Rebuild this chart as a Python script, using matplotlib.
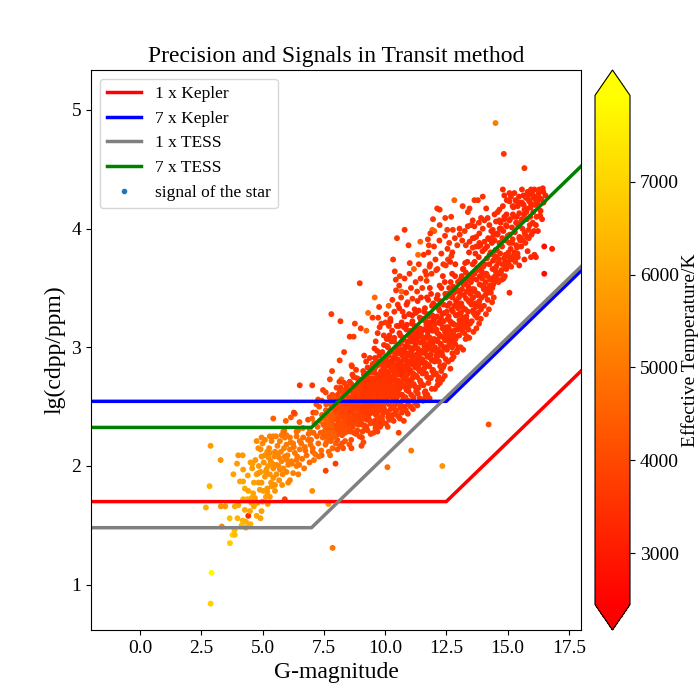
import matplotlib
matplotlib.use('Agg')
import matplotlib.pyplot as plt
from matplotlib.lines import Line2D

plt.rcParams['font.family'] = ['Liberation Serif', 'DejaVu Serif']

# ---- detection-limit lines (vertices) ----
kepler_x = [-2.0, 12.5, 18.0]
kepler_1x = [1.70, 1.70, 2.80]
kepler_7x = [2.545, 2.545, 3.645]
tess_x = [-2.0, 7.0, 18.0]
tess_1x = [1.48, 1.48, 3.68]
tess_7x = [2.325, 2.325, 4.525]

teff_min, teff_max = 2445, 7930

# ---- stars: bright, hot ones (G < 8) ----
g_bright = [2.88, 2.92, 2.88, 3.29, 2.84, 2.69, 3.34, 3.30, 3.48, 3.66,
            3.78, 3.67, 3.86, 3.98, 4.01, 3.87, 3.81, 3.96, 4.01, 4.19,
            4.21, 4.08, 4.21, 4.28, 4.42, 4.38, 4.21, 4.28, 4.19, 4.32,
            4.42, 4.46, 4.49, 4.55, 4.69, 4.65, 4.76, 4.92, 4.96, 5.21,
            4.15, 4.32, 4.51, 3.87, 4.76, 4.65, 4.83, 4.96, 4.55, 4.89,
            5.03, 5.19, 5.37, 5.51, 5.30, 5.14, 5.10, 5.30, 5.44, 5.57,
            5.51, 5.68, 5.71, 5.85, 5.98, 6.12, 6.25, 6.39, 6.50, 6.46,
            5.57, 5.44, 5.33, 5.23, 5.14, 4.92, 4.83, 4.59, 4.51, 4.96,
            5.10, 5.19, 5.30, 5.27, 4.92, 4.76, 4.96, 5.00, 4.83, 5.10,
            5.30, 5.37, 5.55, 5.61, 5.51, 5.71, 5.91, 5.98, 6.12, 6.25,
            6.39, 6.52, 6.66, 6.86, 6.96, 6.73, 6.52, 6.32, 6.39, 6.18,
            6.05, 5.91, 5.78, 5.68, 5.44, 5.78, 5.98, 6.12, 5.85, 6.39,
            5.44, 5.95, 6.16, 6.32, 6.51, 5.89, 7.03, 5.91, 7.69, 7.86,
            7.58, 7.98, 7.41, 6.62, 6.80, 6.70, 6.92, 7.05, 5.80, 6.05]
lg_bright = [0.84, 1.10, 2.17, 2.05, 1.83, 1.65, 1.49, 1.66, 1.66, 1.56,
             1.42, 1.35, 1.46, 1.56, 1.67, 1.66, 1.93, 2.02, 2.09, 2.09,
             1.97, 1.87, 1.87, 1.81, 1.79, 1.72, 1.72, 1.63, 1.54, 1.53,
             1.58, 1.50, 1.62, 1.69, 1.73, 1.66, 1.58, 1.56, 1.62, 1.68,
             1.50, 1.48, 1.51, 1.42, 1.93, 1.86, 1.86, 1.86, 1.73, 1.80,
             1.79, 1.81, 1.83, 1.79, 1.74, 1.74, 1.91, 1.93, 1.90, 1.93,
             1.84, 1.88, 1.97, 1.98, 1.95, 1.88, 1.94, 2.00, 2.01, 1.93,
             2.01, 1.98, 2.04, 2.00, 1.95, 1.95, 1.94, 2.02, 2.03, 2.08,
             2.09, 2.12, 2.11, 2.15, 2.14, 2.21, 2.24, 2.19, 2.15, 2.22,
             2.25, 2.21, 2.25, 2.17, 2.12, 2.21, 2.24, 2.18, 2.14, 2.19,
             2.25, 2.21, 2.24, 2.22, 2.18, 2.16, 2.14, 2.11, 2.05, 2.04,
             2.01, 2.08, 2.04, 2.07, 2.25, 2.26, 2.26, 2.24, 2.29, 2.29,
             2.40, 2.38, 2.41, 2.44, 2.37, 2.30, 1.79, 1.72, 1.68, 1.31,
             1.96, 2.02, 2.09, 2.06, 2.09, 1.98, 2.03, 2.12, 1.84, 1.86]
t_bright = [6900, 7800, 5800, 5700, 6300, 6200, 5300, 5600, 5700, 6500,
            6900, 6800, 6600, 6300, 6000, 6100, 6000, 5800, 5600, 5700,
            5900, 6000, 6000, 6100, 6000, 6200, 6200, 6100, 6300, 6200,
            3400, 6300, 6000, 6000, 5900, 6000, 6100, 5900, 5900, 5800,
            6400, 6300, 6200, 6500, 5800, 5900, 5800, 5700, 6000, 5800,
            5800, 5700, 5600, 5600, 5700, 5800, 5700, 5600, 5600, 5500,
            5500, 5500, 5400, 5400, 5300, 5300, 5200, 5100, 5000, 5100,
            5400, 5500, 5500, 5600, 5600, 5700, 5700, 5800, 5800, 5600,
            5500, 5500, 5400, 5400, 5500, 5400, 5300, 5400, 5500, 5300,
            5200, 5200, 5100, 5200, 5300, 5100, 5000, 5100, 5100, 5000,
            4900, 4900, 4800, 4700, 4800, 4900, 5000, 5000, 5000, 5100,
            5200, 5200, 5300, 5300, 5200, 5000, 5000, 5000, 4900, 4800,
            4500, 4500, 4400, 4300, 4400, 4800, 5500, 3800, 5800, 5000,
            3800, 3700, 4300, 4900, 4800, 5000, 4700, 4600, 5500, 5300]

g_bright2 = [4.40, 4.58, 4.71, 4.85, 5.05, 5.16, 5.25, 5.40, 5.48, 5.62,
             5.75, 5.88, 6.02, 6.15, 6.28, 6.42, 6.58, 6.75, 6.88, 4.62,
             4.80, 5.00, 5.20, 5.35, 5.65, 5.82, 6.00, 6.20, 6.45, 6.65]
lg_bright2 = [1.92, 1.98, 2.05, 2.00, 2.03, 1.97, 2.07, 2.02, 2.08, 2.10,
              2.12, 2.15, 2.09, 2.20, 2.16, 2.08, 2.19, 2.13, 2.27, 1.77,
              1.69, 1.70, 1.78, 1.86, 2.00, 1.93, 2.05, 2.02, 2.30, 2.32]
t_bright2 = [5900, 5800, 5700, 5700, 5600, 5600, 5500, 5500, 5400, 5300,
             5300, 5200, 5200, 5100, 5000, 5000, 4900, 4800, 4700, 6000,
             6000, 5900, 5800, 5700, 5400, 5300, 5200, 5100, 4800, 4700]

# ---- sparse stars above the main band ----
g_upper = [8.97, 7.81, 8.18, 8.77, 9.01, 8.56, 8.72, 9.24, 8.33, 8.15,
           8.63, 7.84, 8.22, 7.75, 6.52, 7.03, 8.02, 7.47, 7.27, 7.07,
           6.86, 6.28, 9.31, 9.58, 9.76, 9.49, 9.72, 9.78, 10.02, 10.16,
           10.16, 10.44, 10.60, 10.40, 10.67, 10.33, 11.01, 11.35, 11.69, 11.82,
           12.09, 12.48, 12.57, 12.71, 12.13, 12.23, 12.46, 11.96, 12.23, 10.80,
           11.93, 12.01, 12.54, 11.85, 10.49, 11.75, 11.44, 10.96, 11.79,
           12.83, 12.70, 13.17, 13.99, 13.79, 13.65, 13.45, 13.38, 12.77,
           13.04, 14.51, 14.85, 15.69, 14.81, 15.08, 15.28, 15.59, 15.82, 15.96,
           16.10, 16.30, 16.44, 16.46, 14.94, 15.48, 15.69, 15.82, 15.96, 16.10,
           16.16, 16.50, 16.82, 16.50, 15.08]
lg_upper = [3.54, 3.28, 3.22, 3.20, 3.16, 3.09, 3.09, 3.14, 2.96, 2.89,
            2.85, 2.80, 2.73, 2.73, 2.68, 2.68, 2.66, 2.64, 2.56, 2.45,
            2.39, 2.45, 3.29, 3.42, 3.34, 3.25, 3.25, 3.17, 3.21, 3.18,
            3.07, 3.57, 3.60, 3.64, 3.47, 3.74, 3.71, 3.78, 3.61, 3.68,
            3.65, 3.69, 3.74, 3.77, 4.17, 4.16, 4.09, 4.08, 4.03, 3.99,
            3.99, 3.98, 3.99, 3.96, 3.92, 3.91, 3.89, 3.86, 3.86,
            4.24, 4.10, 4.19, 4.27, 4.24, 4.24, 4.17, 4.14, 3.99,
            4.00, 4.89, 4.63, 4.51, 4.33, 4.30, 4.30, 4.33, 4.31, 4.33,
            4.33, 4.33, 4.34, 4.31, 3.72, 3.69, 3.74, 3.81, 3.76, 3.78,
            3.76, 3.85, 3.83, 3.62, 3.46]
t_upper = [3600, 3700, 3600, 3800, 3700, 3600, 3700, 4600, 3700, 3800,
           4600, 3800, 4500, 3900, 3600, 3700, 3900, 3800, 4000, 3900,
           4000, 3800, 4700, 4700, 3700, 3600, 3700, 3600, 3700, 3600,
           3700, 3600, 3700, 3600, 4600, 3600, 3600, 4700, 3600, 3700,
           3600, 3600, 3700, 3600, 3500, 3500, 3600, 3600, 3600, 3500,
           4600, 4400, 3700, 3600, 3600, 3600, 4500, 3600, 3700,
           4500, 3600, 3600, 3500, 3600, 3600, 3500, 3600, 3600,
           3500, 5100, 3600, 3500, 3400, 3400, 3400, 3400, 3400, 3300,
           3300, 3300, 3300, 3300, 3400, 3300, 3300, 3300, 3300, 3300,
           3200, 2700, 3000, 2700, 3300]

# ---- halo just above the 7 x TESS line ----
g_halo = [9.62, 9.70, 9.85, 9.95, 10.05, 10.15, 10.22, 10.30, 10.38, 10.45,
          10.52, 10.58, 10.66, 10.72, 10.80, 10.86, 10.92, 11.00, 11.06, 11.12,
          11.18, 11.25, 11.31, 11.38, 11.45, 11.52, 11.58, 11.64, 11.70, 11.77,
          11.84, 11.90, 12.00, 12.06, 12.14, 12.22, 12.30, 12.38, 12.45, 12.55,
          12.62, 12.75, 12.85, 12.95, 13.05, 13.15, 13.25, 13.30]
lg_halo = [3.05, 3.12, 3.20, 3.10, 3.28, 3.35, 3.24, 3.40, 3.30, 3.48,
           3.36, 3.52, 3.42, 3.30, 3.58, 3.46, 3.38, 3.62, 3.50, 3.41,
           3.66, 3.55, 3.47, 3.70, 3.58, 3.50, 3.78, 3.64, 3.56, 3.80,
           3.70, 3.62, 3.85, 3.74, 3.66, 3.90, 3.79, 3.70, 3.94, 3.83,
           3.88, 3.80, 3.92, 3.86, 3.95, 3.90, 3.98, 3.86]
t_halo = [3600, 3500, 3600, 3500, 3500, 4400, 3600, 3500, 3500, 3600,
          3500, 3500, 3600, 3500, 3500, 3600, 3500, 3500, 3500, 3600,
          4500, 3500, 3600, 3500, 3500, 3600, 3500, 3500, 3600, 3500,
          3500, 3600, 3500, 3500, 3600, 3500, 3500, 3600, 3500, 3500,
          3600, 3500, 3500, 3600, 3500, 3500, 3600, 3500]

g_top = [13.38, 13.51, 13.58, 13.65, 13.83, 13.92, 14.13, 14.47, 14.53, 14.67,
         14.40, 14.26, 14.06, 13.85, 13.72, 13.58, 14.19, 14.06, 13.99, 13.85,
         13.72, 13.58, 13.45, 14.26, 14.40, 14.60, 14.74, 14.94, 15.08, 15.28,
         15.48, 15.69, 14.81, 14.67, 14.60, 14.97, 14.87, 15.14, 15.35, 15.08,
         15.42, 15.21, 15.62, 15.89, 16.16, 16.06, 15.76]
lg_top = [4.02, 4.03, 4.07, 4.02, 4.05, 4.09, 4.17, 4.12, 4.06, 4.07,
          3.93, 3.91, 3.89, 3.88, 3.85, 3.84, 4.09, 4.07, 4.00, 3.96,
          3.93, 3.92, 3.89, 4.03, 3.99, 3.96, 4.00, 4.03, 4.07, 4.10,
          4.13, 4.16, 4.19, 4.16, 4.14, 4.24, 4.28, 4.27, 4.23, 4.23,
          4.19, 4.19, 4.21, 4.23, 4.24, 4.26, 4.28]
t_top = [3400, 3500, 3400, 3400, 3500, 3400, 3400, 3300, 3400, 3400,
         3500, 3400, 3400, 3500, 3400, 3500, 3400, 3400, 3500, 3400,
         3400, 3500, 3400, 3400, 3400, 3300, 3400, 3400, 3300, 3400,
         3300, 3300, 3400, 3400, 3400, 3300, 3300, 3400, 3300, 3400,
         3300, 3400, 3300, 3300, 3300, 3300, 3300]

# ---- sparse stars below the main band ----
g_low = [10.10, 11.07, 12.34, 14.23, 9.04, 8.63, 8.29, 10.56]
lg_low = [1.99, 2.13, 2.00, 2.35, 2.17, 2.15, 2.15, 2.28]
t_low = [4800, 5000, 5600, 4100, 3900, 4000, 4100, 3800]

# ---- main band, by magnitude slices (first pass) ----
g_a = [6.92, 6.98, 7.02, 7.05, 7.08, 7.12, 7.15, 7.18, 7.22, 7.25,
       7.28, 7.31, 7.34, 7.37, 7.40, 7.43, 7.46, 7.48, 7.10, 7.20, 7.30, 7.42]
lg_a = [2.31, 2.22, 2.40, 2.15, 2.28, 2.36, 2.10, 2.45, 2.25, 2.33,
        2.19, 2.50, 2.38, 2.28, 2.13, 2.43, 2.24, 2.35, 2.05, 2.52, 2.08, 2.55]
t_a = [4800, 4700, 4500, 4800, 4600, 4500, 4900, 4300, 4600, 4500,
       4700, 4200, 4400, 4500, 4800, 4300, 4600, 4400, 4900, 4200, 4800, 4100]

g_b = [7.52, 7.55, 7.57, 7.60, 7.62, 7.65, 7.67, 7.70, 7.72, 7.74,
       7.77, 7.79, 7.81, 7.84, 7.86, 7.88, 7.90, 7.93, 7.95, 7.97,
       7.99, 7.58, 7.68, 7.76, 7.85, 7.94]
lg_b = [2.29, 2.41, 2.18, 2.52, 2.35, 2.24, 2.46, 2.12, 2.38, 2.58,
        2.30, 2.21, 2.49, 2.36, 2.15, 2.44, 2.27, 2.55, 2.33, 2.40,
        2.19, 2.62, 2.31, 2.09, 2.60, 2.47]
t_b = [4500, 4300, 4600, 4200, 4400, 4500, 4300, 4700, 4300, 4000,
       4400, 4500, 4200, 4300, 4600, 4200, 4400, 4000, 4300, 4200,
       4500, 3900, 4300, 4700, 3900, 4100]

g_c = [8.01, 8.03, 8.05, 8.07, 8.09, 8.11, 8.13, 8.15, 8.17, 8.19,
       8.21, 8.23, 8.25, 8.27, 8.29, 8.31, 8.33, 8.35, 8.37, 8.39,
       8.41, 8.43, 8.45, 8.47, 8.49, 8.06, 8.14, 8.22, 8.30, 8.38,
       8.46, 8.18]
lg_c = [2.34, 2.48, 2.22, 2.60, 2.39, 2.29, 2.53, 2.43, 2.17, 2.66,
        2.36, 2.47, 2.26, 2.58, 2.41, 2.33, 2.70, 2.50, 2.21, 2.44,
        2.62, 2.37, 2.29, 2.55, 2.47, 2.14, 2.71, 2.31, 2.52, 2.64,
        2.40, 2.45]
t_c = [4100, 3900, 4200, 3800, 4000, 4100, 3900, 4000, 4300, 3700,
       4000, 3900, 4100, 3800, 3900, 4000, 3700, 3800, 4200, 3900,
       3700, 4000, 4100, 3800, 3900, 4300, 3600, 4000, 3800, 3700,
       3900, 3900]

g_d = [8.51, 8.52, 8.54, 8.56, 8.57, 8.59, 8.61, 8.62, 8.64, 8.66,
       8.67, 8.69, 8.71, 8.72, 8.74, 8.76, 8.77, 8.79, 8.81, 8.82,
       8.84, 8.86, 8.87, 8.89, 8.91, 8.92, 8.94, 8.96, 8.97, 8.99,
       8.55, 8.65, 8.75, 8.85, 8.95, 8.60]
lg_d = [2.42, 2.58, 2.31, 2.71, 2.49, 2.38, 2.63, 2.22, 2.54, 2.45,
        2.77, 2.35, 2.60, 2.50, 2.28, 2.67, 2.43, 2.56, 2.37, 2.81,
        2.48, 2.62, 2.30, 2.53, 2.70, 2.41, 2.59, 2.25, 2.66, 2.47,
        2.18, 2.84, 2.40, 2.74, 2.35, 2.52]
t_d = [3900, 3800, 4000, 3700, 3800, 3900, 3700, 4100, 3800, 3900,
       3600, 3900, 3700, 3800, 4000, 3700, 3800, 3700, 3900, 3600,
       3800, 3700, 4000, 3800, 3600, 3800, 3700, 4000, 3700, 3800,
       4200, 3600, 3900, 3600, 3900, 3800]

g_e = [9.01, 9.02, 9.04, 9.05, 9.07, 9.08, 9.10, 9.11, 9.13, 9.14,
       9.16, 9.17, 9.19, 9.20, 9.22, 9.23, 9.25, 9.26, 9.28, 9.29,
       9.31, 9.32, 9.34, 9.35, 9.37, 9.38, 9.40, 9.41, 9.43, 9.44,
       9.46, 9.47, 9.49, 9.06, 9.15, 9.24, 9.33, 9.42, 9.48, 9.12]
lg_e = [2.55, 2.38, 2.72, 2.46, 2.64, 2.29, 2.58, 2.80, 2.42, 2.68,
        2.51, 2.34, 2.75, 2.61, 2.47, 2.88, 2.39, 2.66, 2.55, 2.30,
        2.78, 2.49, 2.62, 2.70, 2.44, 2.91, 2.57, 2.36, 2.68, 2.52,
        2.83, 2.45, 2.61, 2.24, 2.93, 2.33, 2.40, 2.27, 2.74, 2.20]
t_e = [3700, 3800, 3600, 3700, 3600, 3900, 3700, 3500, 3800, 3600,
       3700, 3800, 3500, 3600, 3700, 3500, 3800, 3600, 3700, 3900,
       3500, 3700, 3600, 3600, 3700, 3500, 3600, 3800, 3600, 3700,
       3500, 3700, 3600, 3900, 3500, 3800, 3700, 3900, 3500, 4000]

g_f = [9.51, 9.52, 9.54, 9.55, 9.56, 9.58, 9.59, 9.60, 9.62, 9.63,
       9.64, 9.66, 9.67, 9.68, 9.70, 9.71, 9.72, 9.74, 9.75, 9.76,
       9.78, 9.79, 9.80, 9.82, 9.83, 9.84, 9.86, 9.87, 9.88, 9.90,
       9.91, 9.92, 9.94, 9.95, 9.96, 9.98, 9.99, 9.53, 9.61, 9.69,
       9.77, 9.85, 9.93, 9.57]
lg_f = [2.63, 2.48, 2.79, 2.56, 2.36, 2.70, 2.91, 2.52, 2.61, 2.43,
        2.84, 2.68, 2.50, 2.97, 2.59, 2.40, 2.75, 2.66, 2.54, 2.88,
        2.47, 2.71, 2.33, 2.62, 2.95, 2.78, 2.51, 2.69, 2.42, 2.86,
        2.58, 2.74, 2.65, 2.49, 3.02, 2.81, 2.56, 2.28, 2.32, 2.29,
        2.37, 2.35, 2.45, 2.99]
t_f = [3600, 3700, 3500, 3600, 3800, 3500, 3400, 3700, 3600, 3700,
       3500, 3600, 3700, 3400, 3600, 3800, 3500, 3600, 3700, 3500,
       3700, 3500, 3800, 3600, 3400, 3500, 3700, 3600, 3700, 3500,
       3600, 3500, 3600, 3700, 3400, 3500, 3600, 3900, 3800, 3800,
       3800, 3700, 3700, 3400]

g_g = [10.01, 10.02, 10.04, 10.05, 10.06, 10.08, 10.09, 10.10, 10.12, 10.13,
       10.14, 10.16, 10.17, 10.18, 10.20, 10.21, 10.22, 10.24, 10.25, 10.26,
       10.28, 10.29, 10.30, 10.32, 10.33, 10.34, 10.36, 10.37, 10.38, 10.40,
       10.41, 10.42, 10.44, 10.45, 10.46, 10.48, 10.49, 10.03, 10.11, 10.19,
       10.27, 10.35, 10.43, 10.07]
lg_g = [2.72, 2.55, 2.88, 2.64, 2.46, 2.79, 3.01, 2.59, 2.70, 2.41,
        2.93, 2.77, 2.62, 3.10, 2.53, 2.84, 2.68, 2.48, 2.97, 2.74,
        2.60, 3.14, 2.81, 2.66, 2.50, 2.89, 2.72, 3.05, 2.57, 2.78,
        2.63, 2.95, 2.45, 2.85, 2.70, 3.18, 2.58, 2.36, 2.33, 2.39,
        2.42, 2.38, 2.52, 3.07]
t_g = [3500, 3600, 3400, 3500, 3700, 3500, 3400, 3600, 3500, 3700,
       3400, 3500, 3600, 3400, 3600, 3500, 3500, 3700, 3400, 3500,
       3600, 3400, 3500, 3500, 3700, 3400, 3500, 3400, 3600, 3500,
       3500, 3400, 3600, 3400, 3500, 3400, 3600, 3800, 3800, 3700,
       3700, 3700, 3600, 3400]

g_h = [10.51, 10.52, 10.54, 10.55, 10.56, 10.58, 10.59, 10.60, 10.62, 10.63,
       10.64, 10.66, 10.67, 10.68, 10.70, 10.71, 10.72, 10.74, 10.75, 10.76,
       10.78, 10.79, 10.80, 10.82, 10.83, 10.84, 10.86, 10.87, 10.88, 10.90,
       10.91, 10.92, 10.94, 10.95, 10.96, 10.98, 10.99, 10.53, 10.61, 10.69,
       10.77, 10.85, 10.93, 10.57]
lg_h = [2.80, 2.62, 2.97, 2.71, 2.53, 2.88, 3.12, 2.66, 2.79, 2.49,
        3.03, 2.85, 2.70, 3.21, 2.60, 2.93, 2.76, 2.56, 3.08, 2.83,
        2.68, 3.26, 2.90, 2.73, 2.58, 3.00, 2.81, 3.15, 2.64, 2.87,
        2.72, 3.05, 2.52, 2.95, 2.78, 3.28, 2.67, 2.42, 2.40, 2.45,
        2.38, 2.47, 2.44, 3.18]
t_h = [3500, 3500, 3400, 3500, 3600, 3400, 3300, 3500, 3400, 3600,
       3400, 3400, 3500, 3300, 3500, 3400, 3500, 3600, 3400, 3400,
       3500, 3300, 3400, 3500, 3600, 3400, 3500, 3300, 3500, 3400,
       3500, 3400, 3600, 3400, 3500, 3300, 3500, 3700, 3700, 3600,
       3700, 3600, 3600, 3300]

g_i = [11.01, 11.03, 11.04, 11.06, 11.07, 11.09, 11.10, 11.12, 11.13, 11.15,
       11.16, 11.18, 11.19, 11.21, 11.22, 11.24, 11.25, 11.27, 11.28, 11.30,
       11.31, 11.33, 11.34, 11.36, 11.37, 11.39, 11.40, 11.42, 11.43, 11.45,
       11.46, 11.48, 11.49, 11.05, 11.14, 11.23, 11.32, 11.41, 11.47, 11.11]
lg_i = [2.88, 2.70, 3.06, 2.79, 2.60, 2.97, 3.20, 2.74, 2.86, 2.56,
        3.12, 2.93, 2.77, 3.32, 2.67, 3.01, 2.84, 2.63, 3.16, 2.91,
        2.75, 3.39, 2.99, 2.82, 2.66, 3.09, 2.89, 3.25, 2.72, 2.95,
        2.80, 3.13, 2.69, 2.50, 2.48, 2.53, 2.51, 2.57, 3.42, 3.27]
t_i = [3400, 3500, 3400, 3400, 3500, 3400, 3300, 3500, 3400, 3500,
       3300, 3400, 3500, 3300, 3500, 3400, 3400, 3500, 3300, 3400,
       3500, 3300, 3400, 3400, 3500, 3300, 3400, 3300, 3500, 3400,
       3400, 3300, 3500, 3600, 3600, 3600, 3600, 3500, 3300, 3300]

g_j = [11.51, 11.53, 11.54, 11.56, 11.57, 11.59, 11.60, 11.62, 11.63, 11.65,
       11.66, 11.68, 11.69, 11.71, 11.72, 11.74, 11.75, 11.77, 11.78, 11.80,
       11.81, 11.83, 11.84, 11.86, 11.87, 11.89, 11.90, 11.92, 11.93, 11.95,
       11.96, 11.98, 11.99, 11.55, 11.64, 11.73, 11.82, 11.91]
lg_j = [2.97, 2.78, 3.15, 2.88, 2.68, 3.06, 3.30, 2.83, 2.95, 2.63,
        3.22, 3.02, 2.86, 3.42, 2.75, 3.10, 2.93, 2.70, 3.26, 3.00,
        2.84, 3.50, 3.08, 2.91, 2.74, 3.18, 2.98, 3.35, 2.80, 3.04,
        2.89, 3.23, 2.77, 2.55, 2.58, 2.60, 2.57, 2.65]
t_j = [3400, 3400, 3300, 3400, 3500, 3400, 3300, 3400, 3400, 3500,
       3300, 3400, 3400, 3300, 3500, 3400, 3400, 3500, 3300, 3400,
       3400, 3300, 3400, 3400, 3500, 3300, 3400, 3300, 3500, 3400,
       3400, 3300, 3500, 3500, 3600, 3500, 3500, 3500]

g_k = [12.01, 12.03, 12.05, 12.06, 12.08, 12.10, 12.11, 12.13, 12.15, 12.16,
       12.18, 12.20, 12.21, 12.23, 12.25, 12.26, 12.28, 12.30, 12.31, 12.33,
       12.35, 12.36, 12.38, 12.40, 12.41, 12.43, 12.45, 12.46, 12.48, 12.04,
       12.14, 12.24, 12.34, 12.44]
lg_k = [3.07, 2.88, 3.25, 2.97, 2.78, 3.15, 3.41, 2.92, 3.05, 2.72,
        3.33, 3.11, 2.95, 3.52, 2.84, 3.20, 3.02, 2.80, 3.37, 3.09,
        2.93, 3.60, 3.17, 3.00, 2.85, 3.29, 3.06, 3.45, 2.90, 2.65,
        2.68, 2.70, 2.73, 2.76]
t_k = [3400, 3400, 3300, 3400, 3500, 3400, 3300, 3400, 3400, 3500,
       3300, 3400, 3400, 3300, 3500, 3400, 3400, 3500, 3300, 3400,
       3400, 3300, 3400, 3400, 3500, 3300, 3400, 3300, 3400, 3500,
       3500, 3500, 3500, 3500]

g_l = [12.51, 12.53, 12.55, 12.56, 12.58, 12.60, 12.62, 12.63, 12.65, 12.67,
       12.68, 12.70, 12.72, 12.74, 12.75, 12.77, 12.79, 12.80, 12.82, 12.84,
       12.86, 12.87, 12.89, 12.91, 12.93, 12.94, 12.96, 12.98, 12.99, 12.66]
lg_l = [3.17, 2.98, 3.35, 3.07, 2.88, 3.26, 3.50, 3.02, 3.14, 2.82,
        3.43, 3.21, 3.05, 3.62, 2.95, 3.30, 3.11, 2.92, 3.46, 3.19,
        3.03, 3.70, 3.27, 3.09, 2.97, 3.38, 3.15, 3.55, 3.00, 3.72]
t_l = [3400, 3400, 3300, 3400, 3500, 3400, 3300, 3400, 3400, 3500,
       3300, 3400, 3400, 3300, 3500, 3400, 3400, 3500, 3300, 3400,
       3400, 3300, 3400, 3400, 3500, 3300, 3400, 3300, 3400, 3300]

g_m = [13.01, 13.03, 13.05, 13.07, 13.09, 13.11, 13.13, 13.15, 13.17, 13.19,
       13.21, 13.23, 13.25, 13.27, 13.29, 13.31, 13.33, 13.35, 13.37, 13.39,
       13.41, 13.43, 13.45, 13.47, 13.49, 13.20]
lg_m = [3.28, 3.10, 3.46, 3.19, 3.00, 3.37, 3.60, 3.14, 3.25, 2.98,
        3.53, 3.32, 3.17, 3.71, 3.07, 3.41, 3.23, 3.09, 3.56, 3.30,
        3.15, 3.80, 3.38, 3.20, 3.48, 3.66]
t_m = [3400, 3400, 3300, 3400, 3500, 3400, 3300, 3400, 3400, 3500,
       3300, 3400, 3400, 3300, 3500, 3400, 3400, 3500, 3300, 3400,
       3400, 3300, 3400, 3400, 3300, 3300]

g_n = [13.52, 13.54, 13.57, 13.59, 13.61, 13.64, 13.66, 13.68, 13.70, 13.73,
       13.75, 13.77, 13.79, 13.82, 13.84, 13.86, 13.88, 13.91, 13.93, 13.95,
       13.97, 13.63]
lg_n = [3.40, 3.22, 3.58, 3.31, 3.13, 3.49, 3.72, 3.27, 3.37, 3.16,
        3.65, 3.44, 3.29, 3.85, 3.20, 3.53, 3.35, 3.24, 3.68, 3.42,
        3.58, 3.92]
t_n = [3400, 3400, 3300, 3400, 3500, 3400, 3300, 3400, 3400, 3500,
       3300, 3400, 3400, 3300, 3500, 3400, 3400, 3500, 3300, 3400,
       3400, 3300]

g_o = [14.02, 14.04, 14.07, 14.09, 14.12, 14.14, 14.17, 14.19, 14.22, 14.24,
       14.27, 14.29, 14.32, 14.34, 14.37, 14.39, 14.42, 14.44, 14.47, 14.49]
lg_o = [3.52, 3.35, 3.70, 3.44, 3.28, 3.62, 3.85, 3.40, 3.50, 3.32,
        3.78, 3.57, 3.46, 3.98, 3.38, 3.66, 3.53, 3.42, 3.90, 3.60]
t_o = [3400, 3400, 3300, 3400, 3500, 3400, 3300, 3400, 3400, 3500,
       3300, 3400, 3400, 3300, 3500, 3400, 3400, 3500, 3300, 3400]

g_p = [14.52, 14.55, 14.57, 14.60, 14.63, 14.65, 14.68, 14.71, 14.73, 14.76,
       14.79, 14.81, 14.84, 14.87, 14.89, 14.92, 14.95, 14.97]
lg_p = [3.64, 3.58, 3.82, 3.56, 3.55, 3.74, 4.00, 3.62, 3.63, 3.57,
        3.92, 3.70, 3.58, 4.10, 3.60, 3.78, 3.66, 4.02]
t_p = [3400, 3400, 3300, 3400, 3500, 3400, 3300, 3400, 3400, 3500,
       3300, 3400, 3400, 3300, 3500, 3400, 3400, 3300]

g_q = [15.02, 15.05, 15.09, 15.12, 15.15, 15.19, 15.22, 15.25, 15.29, 15.32,
       15.35, 15.39, 15.42, 15.45, 15.48]
lg_q = [3.77, 3.70, 3.95, 3.74, 3.68, 3.88, 4.12, 3.74, 3.80, 3.72,
        4.05, 3.84, 3.76, 4.22, 3.92]
t_q = [3400, 3400, 3300, 3400, 3500, 3400, 3300, 3400, 3400, 3500,
       3300, 3400, 3400, 3300, 3400]

g_r = [15.52, 15.56, 15.59, 15.63, 15.66, 15.70, 15.73, 15.77, 15.80, 15.84,
       15.87, 15.91, 15.94, 15.98]
lg_r = [3.90, 3.85, 4.08, 3.90, 4.20, 3.97, 3.88, 4.14, 3.93, 4.25,
        3.92, 4.03, 4.18, 3.95]
t_r = [3400, 3400, 3300, 3400, 3300, 3400, 3400, 3300, 3400, 3300,
       3400, 3400, 3300, 3400]

g_s = [16.03, 16.08, 16.13, 16.19, 16.24, 16.30, 16.35, 16.41, 16.47, 16.55]
lg_s = [4.05, 3.98, 4.20, 4.10, 3.98, 4.26, 4.15, 4.08, 4.22, 4.28]
t_s = [3300, 3300, 3300, 3300, 3300, 3300, 3300, 3300, 3300, 3200]

# ---- main band, second pass (fills the dense core) ----
g_b2 = [7.51, 7.54, 7.56, 7.59, 7.61, 7.64, 7.66, 7.69, 7.71, 7.73,
        7.76, 7.78, 7.80, 7.83, 7.85, 7.87, 7.89, 7.92, 7.96, 7.98]
lg_b2 = [2.40, 2.26, 2.33, 2.47, 2.20, 2.37, 2.28, 2.43, 2.53, 2.26,
         2.42, 2.34, 2.23, 2.51, 2.39, 2.30, 2.57, 2.44, 2.25, 2.52]
t_b2 = [4400, 4500, 4400, 4300, 4600, 4400, 4500, 4300, 4200, 4500,
        4300, 4400, 4500, 4200, 4300, 4400, 4100, 4300, 4500, 4200]

g_c2 = [8.02, 8.04, 8.06, 8.08, 8.10, 8.12, 8.14, 8.16, 8.18, 8.20,
        8.22, 8.24, 8.26, 8.28, 8.30, 8.32, 8.34, 8.36, 8.38, 8.40,
        8.42, 8.44, 8.46, 8.48, 8.50, 8.12]
lg_c2 = [2.45, 2.31, 2.56, 2.38, 2.50, 2.27, 2.42, 2.63, 2.35, 2.51,
         2.44, 2.19, 2.57, 2.32, 2.46, 2.61, 2.39, 2.28, 2.54, 2.49,
         2.34, 2.67, 2.43, 2.36, 2.58, 2.52]
t_c2 = [4000, 4100, 3900, 4000, 3900, 4200, 4000, 3800, 4100, 3900,
        4000, 4200, 3800, 4100, 3900, 3800, 4000, 4100, 3800, 3900,
        4000, 3700, 3900, 4000, 3800, 3900]

g_d2 = [8.51, 8.53, 8.55, 8.57, 8.58, 8.60, 8.62, 8.63, 8.65, 8.67,
        8.68, 8.70, 8.72, 8.73, 8.75, 8.77, 8.78, 8.80, 8.82, 8.83,
        8.85, 8.87, 8.88, 8.90, 8.92, 8.93, 8.95, 8.97, 8.98, 8.64]
lg_d2 = [2.51, 2.36, 2.64, 2.45, 2.56, 2.29, 2.48, 2.69, 2.40, 2.58,
         2.33, 2.52, 2.75, 2.44, 2.61, 2.38, 2.55, 2.65, 2.27, 2.50,
         2.57, 2.42, 2.68, 2.35, 2.60, 2.49, 2.73, 2.45, 2.56, 2.47]
t_d2 = [3800, 3900, 3700, 3800, 3700, 4000, 3800, 3600, 3900, 3700,
        3900, 3800, 3600, 3800, 3700, 3900, 3800, 3700, 4000, 3800,
        3700, 3800, 3600, 3900, 3700, 3800, 3600, 3800, 3700, 3800]

g_e2 = [9.02, 9.03, 9.05, 9.06, 9.08, 9.09, 9.11, 9.12, 9.14, 9.15,
        9.17, 9.18, 9.20, 9.21, 9.23, 9.24, 9.26, 9.27, 9.29, 9.30,
        9.32, 9.33, 9.35, 9.36, 9.38, 9.39, 9.41, 9.42, 9.44, 9.45,
        9.47, 9.48, 9.50, 9.19]
lg_e2 = [2.63, 2.49, 2.58, 2.35, 2.69, 2.53, 2.44, 2.62, 2.77, 2.50,
         2.59, 2.41, 2.66, 2.55, 2.71, 2.46, 2.60, 2.52, 2.83, 2.64,
         2.43, 2.57, 2.74, 2.50, 2.65, 2.38, 2.60, 2.79, 2.55, 2.47,
         2.68, 2.53, 2.86, 2.32]
t_e2 = [3700, 3700, 3600, 3800, 3600, 3700, 3700, 3600, 3500, 3700,
        3600, 3800, 3600, 3700, 3500, 3700, 3600, 3700, 3500, 3600,
        3700, 3600, 3500, 3700, 3600, 3800, 3600, 3500, 3600, 3700,
        3500, 3600, 3500, 3800]

g_f2 = [9.51, 9.53, 9.54, 9.56, 9.57, 9.59, 9.60, 9.62, 9.63, 9.65,
        9.66, 9.68, 9.69, 9.71, 9.72, 9.74, 9.75, 9.77, 9.78, 9.80,
        9.81, 9.83, 9.84, 9.86, 9.87, 9.89, 9.90, 9.92, 9.93, 9.95,
        9.96, 9.98, 9.99, 9.58, 9.73, 9.88]
lg_f2 = [2.72, 2.55, 2.66, 2.81, 2.58, 2.47, 2.74, 2.63, 2.89, 2.54,
         2.70, 2.45, 2.77, 2.61, 2.85, 2.57, 2.68, 2.93, 2.52, 2.76,
         2.64, 2.41, 2.80, 2.69, 2.58, 2.96, 2.63, 2.49, 2.83, 2.71,
         2.60, 2.88, 2.53, 2.38, 2.35, 2.39]
t_f2 = [3600, 3700, 3600, 3500, 3700, 3700, 3600, 3600, 3500, 3700,
        3600, 3700, 3500, 3600, 3500, 3600, 3600, 3400, 3700, 3500,
        3600, 3800, 3500, 3600, 3700, 3400, 3600, 3700, 3500, 3600,
        3600, 3400, 3700, 3800, 3800, 3800]

g_g2 = [10.00, 10.02, 10.03, 10.05, 10.06, 10.08, 10.09, 10.11, 10.12, 10.14,
        10.15, 10.17, 10.18, 10.20, 10.21, 10.23, 10.24, 10.26, 10.27, 10.29,
        10.30, 10.32, 10.33, 10.35, 10.36, 10.38, 10.39, 10.41, 10.42, 10.44,
        10.45, 10.47, 10.48, 10.50, 10.13, 10.31, 10.46, 10.22]
lg_g2 = [2.81, 2.63, 2.76, 2.92, 2.68, 2.57, 2.85, 2.73, 3.00, 2.61,
         2.79, 2.52, 2.88, 2.70, 2.96, 2.65, 2.83, 3.05, 2.58, 2.86,
         2.75, 2.49, 2.91, 2.80, 2.67, 3.08, 2.73, 2.62, 2.94, 2.84,
         2.55, 2.99, 2.77, 2.66, 2.44, 2.43, 2.47, 3.22]
t_g2 = [3500, 3600, 3500, 3400, 3600, 3600, 3500, 3500, 3400, 3600,
        3500, 3600, 3400, 3500, 3400, 3600, 3500, 3400, 3600, 3400,
        3500, 3700, 3400, 3500, 3600, 3400, 3500, 3600, 3400, 3500,
        3600, 3400, 3500, 3600, 3700, 3700, 3700, 3400]

g_h2 = [10.51, 10.53, 10.54, 10.56, 10.57, 10.59, 10.60, 10.62, 10.63, 10.65,
        10.66, 10.68, 10.69, 10.71, 10.72, 10.74, 10.75, 10.77, 10.78, 10.80,
        10.81, 10.83, 10.84, 10.86, 10.87, 10.89, 10.90, 10.92, 10.93, 10.95,
        10.96, 10.98, 10.99, 10.64, 10.79, 10.94, 10.58, 10.88]
lg_h2 = [2.90, 2.72, 2.85, 3.02, 2.77, 2.65, 2.95, 2.82, 3.10, 2.69,
         2.88, 2.60, 2.98, 2.79, 3.06, 2.74, 2.92, 3.17, 2.67, 2.96,
         2.84, 2.57, 3.01, 2.89, 2.76, 3.19, 2.83, 2.71, 3.04, 2.93,
         2.63, 3.10, 2.86, 2.52, 2.50, 2.55, 3.33, 3.36]
t_h2 = [3400, 3500, 3400, 3300, 3500, 3500, 3400, 3400, 3300, 3500,
        3400, 3500, 3400, 3400, 3300, 3500, 3400, 3300, 3500, 3400,
        3400, 3600, 3300, 3400, 3500, 3300, 3400, 3500, 3300, 3400,
        3500, 3300, 3400, 3600, 3600, 3600, 3300, 3300]

g_i2 = [11.00, 11.02, 11.03, 11.05, 11.06, 11.08, 11.09, 11.11, 11.12, 11.14,
        11.15, 11.17, 11.18, 11.20, 11.21, 11.23, 11.24, 11.26, 11.27, 11.29,
        11.30, 11.32, 11.33, 11.35, 11.36, 11.38, 11.39, 11.41, 11.42, 11.44,
        11.45, 11.47, 11.48, 11.50, 11.16, 11.34]
lg_i2 = [3.00, 2.81, 2.95, 3.14, 2.86, 2.73, 3.05, 2.91, 3.22, 2.78,
         2.99, 2.69, 3.09, 2.88, 3.18, 2.83, 3.03, 3.29, 2.76, 3.07,
         2.94, 2.65, 3.12, 2.98, 2.85, 3.31, 2.93, 2.80, 3.16, 3.04,
         2.71, 3.23, 2.96, 2.87, 2.58, 2.61]
t_i2 = [3400, 3400, 3400, 3300, 3400, 3500, 3300, 3400, 3300, 3500,
        3400, 3500, 3300, 3400, 3300, 3400, 3300, 3300, 3500, 3300,
        3400, 3500, 3300, 3400, 3400, 3300, 3400, 3500, 3300, 3400,
        3500, 3300, 3400, 3400, 3600, 3600]

g_j2 = [11.51, 11.52, 11.54, 11.55, 11.57, 11.58, 11.60, 11.61, 11.63, 11.64,
        11.66, 11.67, 11.69, 11.70, 11.72, 11.73, 11.75, 11.76, 11.78, 11.79,
        11.81, 11.82, 11.84, 11.85, 11.87, 11.88, 11.90, 11.91, 11.93, 11.94,
        11.96, 11.97, 11.99, 11.62]
lg_j2 = [3.09, 2.90, 3.05, 3.24, 2.96, 2.82, 3.15, 3.01, 3.33, 2.87,
         3.08, 2.78, 3.19, 2.98, 3.28, 2.92, 3.13, 3.40, 2.85, 3.17,
         3.04, 2.74, 3.21, 3.07, 2.94, 3.45, 3.03, 2.89, 3.27, 3.14,
         2.81, 3.37, 3.06, 2.62]
t_j2 = [3400, 3400, 3400, 3300, 3400, 3500, 3300, 3400, 3300, 3400,
        3400, 3500, 3300, 3400, 3300, 3400, 3300, 3300, 3400, 3300,
        3400, 3500, 3300, 3400, 3400, 3300, 3400, 3400, 3300, 3300,
        3500, 3300, 3400, 3500]

g_k2 = [12.02, 12.04, 12.05, 12.07, 12.09, 12.10, 12.12, 12.14, 12.15, 12.17,
        12.19, 12.20, 12.22, 12.24, 12.25, 12.27, 12.29, 12.30, 12.32, 12.34,
        12.35, 12.37, 12.39, 12.40, 12.42, 12.44, 12.45, 12.47, 12.49, 12.19]
lg_k2 = [3.19, 3.00, 3.14, 3.35, 3.06, 2.93, 3.26, 3.12, 3.44, 2.98,
         3.21, 2.88, 3.31, 3.09, 3.39, 3.03, 3.24, 3.50, 2.96, 3.28,
         3.16, 2.83, 3.36, 3.22, 3.08, 3.55, 3.13, 3.00, 3.42, 2.75]
t_k2 = [3400, 3400, 3400, 3300, 3400, 3400, 3300, 3400, 3300, 3400,
        3300, 3500, 3300, 3400, 3300, 3400, 3300, 3300, 3400, 3300,
        3400, 3500, 3300, 3400, 3400, 3300, 3400, 3400, 3300, 3500]

g_l2 = [12.52, 12.54, 12.56, 12.58, 12.60, 12.62, 12.64, 12.66, 12.68, 12.70,
        12.72, 12.74, 12.76, 12.78, 12.80, 12.82, 12.84, 12.86, 12.88, 12.90,
        12.92, 12.94, 12.96, 12.98, 13.00, 12.73]
lg_l2 = [3.30, 3.11, 3.24, 3.45, 3.17, 3.04, 3.37, 3.22, 3.55, 3.09,
         3.32, 3.00, 3.42, 3.20, 3.51, 3.14, 3.35, 3.60, 3.07, 3.39,
         3.27, 2.96, 3.48, 3.33, 3.19, 2.90]
t_l2 = [3400, 3400, 3400, 3300, 3400, 3400, 3300, 3400, 3300, 3400,
        3300, 3500, 3300, 3400, 3300, 3400, 3300, 3300, 3400, 3300,
        3400, 3500, 3300, 3400, 3400, 3500]

g_m2 = [13.02, 13.04, 13.06, 13.08, 13.10, 13.12, 13.14, 13.16, 13.18, 13.20,
        13.22, 13.24, 13.26, 13.28, 13.30, 13.32, 13.34, 13.36, 13.38, 13.40,
        13.42, 13.44, 13.46, 13.48]
lg_m2 = [3.42, 3.23, 3.36, 3.57, 3.29, 3.16, 3.49, 3.34, 3.66, 3.21,
         3.44, 3.12, 3.54, 3.32, 3.63, 3.26, 3.47, 3.72, 3.19, 3.51,
         3.39, 3.08, 3.60, 3.45]
t_m2 = [3400, 3400, 3400, 3300, 3400, 3400, 3300, 3400, 3300, 3400,
        3300, 3500, 3300, 3400, 3300, 3400, 3300, 3300, 3400, 3300,
        3400, 3500, 3300, 3400]

g_n2 = [13.51, 13.53, 13.56, 13.58, 13.60, 13.62, 13.65, 13.67, 13.69, 13.71,
        13.74, 13.76, 13.78, 13.80, 13.83, 13.85, 13.87, 13.89, 13.92, 13.94,
        13.96, 13.98]
lg_n2 = [3.55, 3.36, 3.49, 3.70, 3.42, 3.29, 3.62, 3.47, 3.79, 3.34,
         3.57, 3.25, 3.67, 3.45, 3.76, 3.39, 3.60, 3.86, 3.32, 3.64,
         3.52, 3.81]
t_n2 = [3400, 3400, 3400, 3300, 3400, 3400, 3300, 3400, 3300, 3400,
        3300, 3500, 3300, 3400, 3300, 3400, 3300, 3300, 3400, 3300,
        3400, 3300]

g_o2 = [14.01, 14.03, 14.06, 14.08, 14.11, 14.13, 14.16, 14.18, 14.21, 14.23,
        14.26, 14.28, 14.31, 14.33, 14.36, 14.38, 14.41, 14.43, 14.46, 14.48]
lg_o2 = [3.68, 3.49, 3.62, 3.83, 3.55, 3.45, 3.75, 3.60, 3.92, 3.48,
         3.70, 3.52, 3.80, 3.58, 3.88, 3.50, 3.73, 3.96, 3.56, 3.77]
t_o2 = [3400, 3400, 3400, 3300, 3400, 3400, 3300, 3400, 3300, 3400,
        3300, 3400, 3300, 3400, 3300, 3400, 3300, 3300, 3400, 3300]

g_p2 = [14.51, 14.54, 14.56, 14.59, 14.62, 14.64, 14.67, 14.70, 14.72, 14.75,
        14.78, 14.80, 14.83, 14.86, 14.88, 14.91, 14.94, 14.96]
lg_p2 = [3.82, 3.68, 3.76, 3.95, 3.71, 3.62, 3.88, 3.79, 4.05, 3.65,
         3.85, 3.70, 3.98, 3.75, 4.08, 3.67, 3.90, 4.12]
t_p2 = [3400, 3400, 3400, 3300, 3400, 3400, 3300, 3400, 3300, 3400,
        3300, 3400, 3300, 3400, 3300, 3400, 3300, 3300]

g_q2 = [15.01, 15.04, 15.07, 15.10, 15.13, 15.16, 15.18, 15.21, 15.24, 15.27,
        15.30, 15.33, 15.36, 15.38, 15.41, 15.44, 15.47, 15.49]
lg_q2 = [3.94, 3.80, 3.88, 4.08, 3.83, 3.76, 4.01, 3.91, 4.18, 3.78,
         3.97, 4.24, 3.86, 4.10, 3.79, 4.02, 4.27, 3.93]
t_q2 = [3400, 3400, 3400, 3300, 3400, 3400, 3300, 3400, 3300, 3400,
        3300, 3300, 3400, 3300, 3400, 3300, 3300, 3400]

g_r2 = [15.51, 15.54, 15.58, 15.61, 15.65, 15.68, 15.72, 15.75, 15.79, 15.82,
        15.86, 15.89, 15.93, 15.96, 16.00, 16.05, 16.11, 16.16, 16.22, 16.27,
        16.33, 16.38]
lg_r2 = [4.05, 3.92, 4.22, 4.00, 4.28, 4.12, 3.95, 4.26, 4.08, 4.17,
         3.99, 4.29, 4.10, 4.21, 4.30, 4.14, 4.27, 4.03, 4.22, 4.30,
         4.11, 4.25]
t_r2 = [3400, 3400, 3300, 3400, 3300, 3300, 3400, 3300, 3400, 3300,
        3400, 3300, 3300, 3300, 3300, 3300, 3300, 3300, 3300, 3300,
        3300, 3300]

groups = [
    (g_bright, lg_bright, t_bright), (g_bright2, lg_bright2, t_bright2),
    (g_upper, lg_upper, t_upper), (g_halo, lg_halo, t_halo),
    (g_top, lg_top, t_top), (g_low, lg_low, t_low),
    (g_a, lg_a, t_a), (g_b, lg_b, t_b), (g_c, lg_c, t_c), (g_d, lg_d, t_d),
    (g_e, lg_e, t_e), (g_f, lg_f, t_f), (g_g, lg_g, t_g), (g_h, lg_h, t_h),
    (g_i, lg_i, t_i), (g_j, lg_j, t_j), (g_k, lg_k, t_k), (g_l, lg_l, t_l),
    (g_m, lg_m, t_m), (g_n, lg_n, t_n), (g_o, lg_o, t_o), (g_p, lg_p, t_p),
    (g_q, lg_q, t_q), (g_r, lg_r, t_r), (g_s, lg_s, t_s),
    (g_b2, lg_b2, t_b2), (g_c2, lg_c2, t_c2), (g_d2, lg_d2, t_d2),
    (g_e2, lg_e2, t_e2), (g_f2, lg_f2, t_f2), (g_g2, lg_g2, t_g2),
    (g_h2, lg_h2, t_h2), (g_i2, lg_i2, t_i2), (g_j2, lg_j2, t_j2),
    (g_k2, lg_k2, t_k2), (g_l2, lg_l2, t_l2), (g_m2, lg_m2, t_m2),
    (g_n2, lg_n2, t_n2), (g_o2, lg_o2, t_o2), (g_p2, lg_p2, t_p2),
    (g_q2, lg_q2, t_q2), (g_r2, lg_r2, t_r2),
]
gmag, lgcdpp, teff = [], [], []
for gx, gy, gt in groups:
    n = min(len(gx), len(gy), len(gt))
    gmag += gx[:n]
    lgcdpp += gy[:n]
    teff += gt[:n]

fig = plt.figure(figsize=(7, 7), dpi=100)
ax = fig.add_axes([0.13, 0.1, 0.7, 0.8])
cax = fig.add_axes([0.85, 0.1, 0.05, 0.8])

sc = ax.scatter(gmag, lgcdpp, c=teff, cmap='autumn', vmin=teff_min,
                vmax=teff_max, s=18, linewidths=0, zorder=1)
l1, = ax.plot(kepler_x, kepler_1x, color='red', lw=2.5, label='1 x Kepler')
l2, = ax.plot(kepler_x, kepler_7x, color='blue', lw=2.5, label='7 x Kepler')
l3, = ax.plot(tess_x, tess_1x, color='grey', lw=2.5, label='1 x TESS')
l4, = ax.plot(tess_x, tess_7x, color='green', lw=2.5, label='7 x TESS')
dot = Line2D([], [], marker='o', ls='none', color='C0', markersize=3,
             label='signal of the star')
ax.legend(handles=[l1, l2, l3, l4, dot], loc='upper left', fontsize=12.5)

ax.set_xlim(-2, 18)
ax.set_ylim(0.618, 5.337)
ax.set_title('Precision and Signals in Transit method', fontsize=17)
ax.set_xlabel('G-magnitude', fontsize=17)
ax.set_ylabel('lg(cdpp/ppm)', fontsize=17)
ax.tick_params(labelsize=14)

cb = fig.colorbar(sc, cax=cax, extend='both')
cb.set_label('Effective Temperature/K', fontsize=14, labelpad=2)
cb.ax.tick_params(labelsize=14)

fig.savefig('out.png', dpi=100)
